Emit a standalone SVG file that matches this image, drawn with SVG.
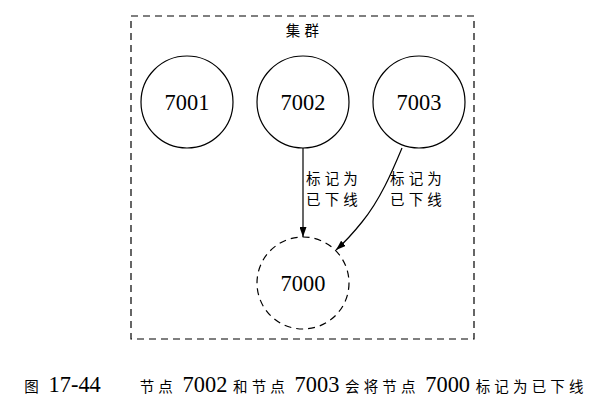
<svg xmlns="http://www.w3.org/2000/svg" width="607" height="408" viewBox="0 0 607 408">
<style>
text { font-family: "Liberation Serif", "Noto Sans CJK SC", serif; font-size: 22.4px; fill: #000; }
.cjk { font-family: "Noto Sans CJK SC", "Liberation Serif", sans-serif; font-size: 14.5px; letter-spacing: 4.17px; }
.node { fill: #fff; stroke: #000; stroke-width: 1.2; }
.dashed { stroke-dasharray: 7 5; }
.edge { fill: none; stroke: #000; stroke-width: 1.2; }
.cluster { fill: none; stroke: #000; stroke-width: 1.2; stroke-dasharray: 7 5; }
</style>
<defs>
<marker id="arrow" viewBox="0 0 10 7" refX="10" refY="3.5" markerWidth="10" markerHeight="7" markerUnits="userSpaceOnUse" orient="auto">
<path d="M0,0 L10,3.5 L0,7 z" fill="#000"/>
</marker>
</defs>
<rect width="607" height="408" fill="#fff"/>
<g id="cluster">
<rect class="cluster" x="131" y="16" width="343" height="323"/>
<text class="cjk" x="304.5" y="35.5" text-anchor="middle">集群</text>
</g>
<g id="connectors">
<path class="edge" d="M303,148 L303,237" marker-end="url(#arrow)"/>
<path class="edge" d="M402,148 C392,172 380,200 362,222 C354,232 346,241 336,250" marker-end="url(#arrow)"/>
<text class="cjk"><tspan x="306" y="183.5">标记为</tspan><tspan x="306" y="204.5">已下线</tspan></text>
<text class="cjk"><tspan x="390" y="183.5">标记为</tspan><tspan x="390" y="204.5">已下线</tspan></text>
</g>
<g id="n7001">
<circle class="node" cx="187" cy="102" r="46"/>
<text x="187" y="109.5" text-anchor="middle">7001</text>
</g>
<g id="n7002">
<circle class="node" cx="303" cy="102" r="46"/>
<text x="303" y="109.5" text-anchor="middle">7002</text>
</g>
<g id="n7003">
<circle class="node" cx="419" cy="102" r="46"/>
<text x="419" y="109.5" text-anchor="middle">7003</text>
</g>
<g id="n7000">
<circle class="node dashed" cx="303" cy="283" r="46"/>
<text x="303" y="290.5" text-anchor="middle">7000</text>
</g>
<g id="caption">
<text x="306" y="392" text-anchor="middle"><tspan class="cjk">图</tspan> 17-44 <tspan class="cjk">　</tspan> <tspan class="cjk" dx="9">节点</tspan> 7002 <tspan class="cjk">和节点</tspan> 7003 <tspan class="cjk">会将节点</tspan> 7000 <tspan class="cjk">标记为已下线</tspan></text>
</g>
</svg>
